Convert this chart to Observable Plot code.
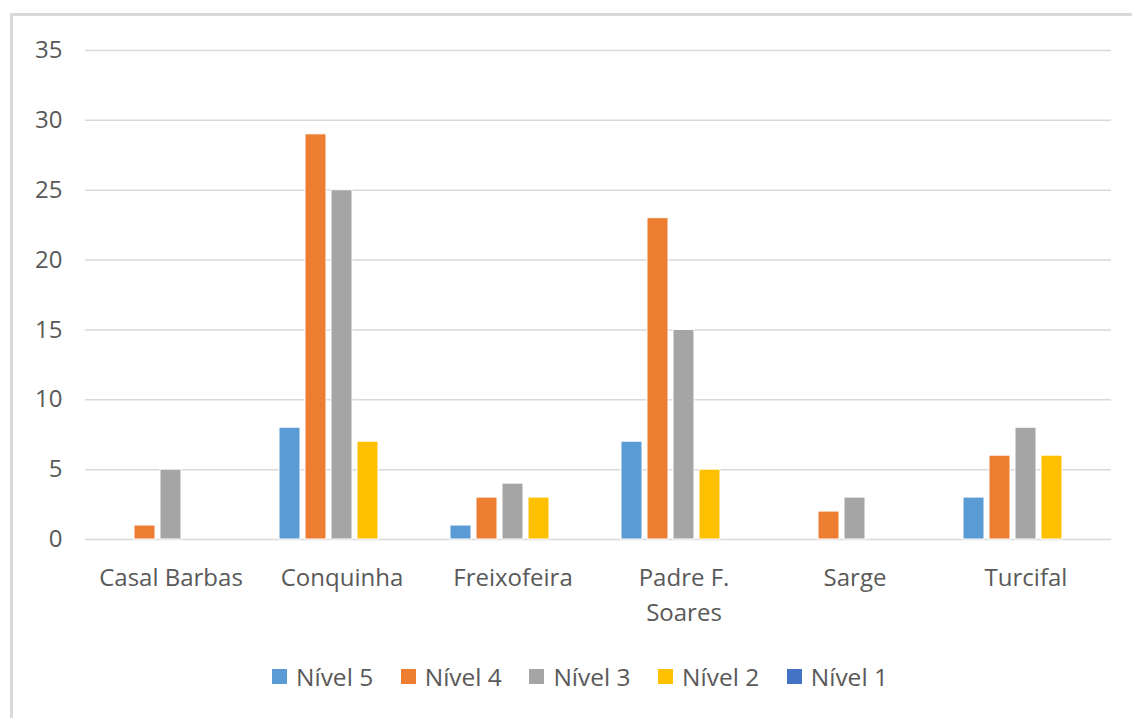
<!DOCTYPE html>
<html><head><meta charset="utf-8">
<script src="https://cdn.jsdelivr.net/npm/d3@7"></script>
<script src="https://cdn.jsdelivr.net/npm/@observablehq/plot@0.6"></script>
<style>
html,body{margin:0;padding:0;background:#fff;}
body{width:1132px;height:718px;overflow:hidden;position:relative;font-family:"Open Sans",sans-serif;}
#frame{position:absolute;left:10px;top:13px;width:1200px;height:800px;border-left:3px solid #d9d9d9;border-top:3px solid #d9d9d9;}
#chart{position:absolute;left:0;top:0;}
#legend{position:absolute;top:660px;left:272px;display:flex;align-items:center;font-size:24.5px;color:#595959;white-space:nowrap;}
.item{display:flex;align-items:center;margin-right:27.5px;}
.sw{width:15px;height:15px;margin-right:9px;}
</style>
</head><body>
<div id="frame"></div>
<div id="chart"></div>
<div id="legend"></div>
<script>
const categories = ["Casal Barbas","Conquinha","Freixofeira","Padre F. Soares","Sarge","Turcifal"];
const categoryLabels = ["Casal Barbas","Conquinha","Freixofeira","Padre F.\nSoares","Sarge","Turcifal"];
const series = ["Nível 5","Nível 4","Nível 3","Nível 2","Nível 1"];
const nivel5 = [0,8,1,7,0,3];
const nivel4 = [1,29,3,23,2,6];
const nivel3 = [5,25,4,15,3,8];
const nivel2 = [0,7,3,5,0,6];
const nivel1 = [0,0,0,0,0,0];
const colors = ["#5B9BD5","#ED7D31","#A5A5A5","#FFC000","#4472C4"];
const yTicks = [0,5,10,15,20,25,30,35];

const seriesValues = [nivel5, nivel4, nivel3, nivel2, nivel1];
const data = [];
categories.forEach((c, i) => series.forEach((s, j) => data.push({category: c, series: s, value: seriesValues[j][i]})));

const chart = Plot.plot({
  width: 1132, height: 640,
  marginLeft: 85, marginRight: 21, marginTop: 50, marginBottom: 101,
  style: {fontFamily: "'Open Sans', sans-serif", fontSize: "24px", color: "#595959", background: "transparent"},
  fx: {domain: categories, padding: 0, label: null, axis: null},
  x: {domain: series, paddingInner: 0.2, paddingOuter: 0.85, axis: null},
  y: {domain: [0, 35], label: null, axis: null},
  color: {domain: series, range: colors},
  marks: [
    Plot.ruleY(yTicks, {stroke: "#d9d9d9", strokeWidth: 1.5}),
    Plot.barY(data, {fx: "category", x: "series", y: "value", fill: "series", stroke: "white", strokeWidth: 1, filter: d => d.value > 0}),
    Plot.axisY({ticks: yTicks, tickSize: 0, tickPadding: 23, label: null, fontSize: 24}),
    Plot.axisFx({anchor: "bottom", tickSize: 0, tickPadding: 22, label: null, fontSize: 24, lineHeight: 1.45,
      tickFormat: d => categoryLabels[categories.indexOf(d)]})
  ]
});
document.getElementById("chart").appendChild(chart);

const legend = document.getElementById("legend");
series.forEach((s, j) => {
  const it = document.createElement("div"); it.className = "item";
  const sw = document.createElement("div"); sw.className = "sw"; sw.style.background = colors[j];
  const t = document.createElement("span"); t.textContent = s;
  it.appendChild(sw); it.appendChild(t); legend.appendChild(it);
});
</script>
</body></html>
